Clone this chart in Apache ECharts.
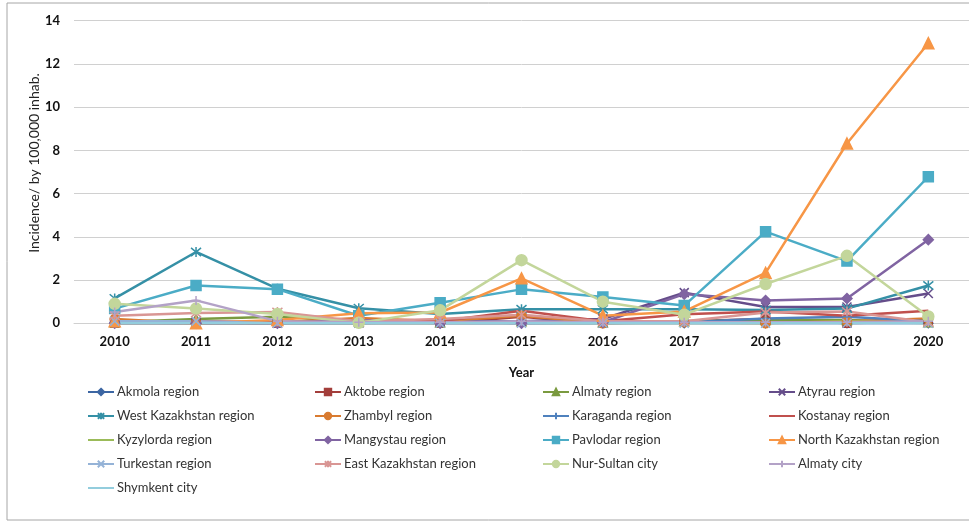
<!DOCTYPE html>
<html lang="en">
<head>
    <meta charset="UTF-8">
    <title>incidence</title>
    <script src="https://cdn.jsdelivr.net/npm/echarts@6/dist/echarts.min.js"></script>
    <style>
        html, body { margin: 0; padding: 0; background: #fff; }
    </style>
</head>
<body>
<div id="main" style="width: 969px;height:524px;"></div>
<script>
    // years on the x axis
    var years = ['2010', '2011', '2012', '2013', '2014', '2015', '2016', '2017', '2018', '2019', '2020'];
    var yTicks = [0, 2, 4, 6, 8, 10, 12, 14];

    // values (per 100,000 inhab.)
    var akmola     = [0.05, 0, 0, 0, 0.1, 0, 0, 0, 0, 0, 0];
    var aktobe     = [0, 0, 0, 0, 0, 0.3, 0, 0.1, 0.2, 0, 0.1];
    var almatyReg  = [0.05, 0.2, 0.3, 0.1, 0.05, 0.1, 0.05, 0.1, 0.15, 0.15, 0.05];
    var atyrau     = [0.05, 0.05, 0, 0.15, 0.1, 0.1, 0.2, 1.42, 0.75, 0.75, 1.38];
    var westKaz    = [1.15, 3.3, 1.6, 0.7, 0.43, 0.65, 0.65, 0.65, 0.62, 0.68, 1.75];
    var zhambyl    = [0.2, 0, 0.05, 0.25, 0.1, 0.35, 0, 0.05, 0, 0.1, 0.22];
    var karaganda  = [0, 0, 0, 0, 0, 0, 0, 0.05, 0.22, 0.3, 0.1];
    var kostanay   = [0.1, 0.1, 0.05, 0.1, 0.1, 0.58, 0.1, 0.42, 0.55, 0.35, 0.58];
    var kyzylorda  = [0, 0, 0, 0, 0, 0, 0, 0, 0, 0.1, 0];
    var mangystau  = [0, 0, 0, 0.15, 0, 0, 0.05, 1.35, 1.05, 1.15, 3.87];
    var pavlodar   = [0.68, 1.75, 1.58, 0.35, 0.95, 1.57, 1.22, 0.82, 4.24, 2.88, 6.78];
    var northKaz   = [0.1, 0, 0.15, 0.46, 0.5, 2.08, 0.35, 0.55, 2.33, 8.32, 12.96];
    var turkestan  = [0.1, 0.1, 0, 0, 0, 0, 0, 0, 0, 0, 0];
    var eastKaz    = [0.35, 0.48, 0.52, 0.1, 0.2, 0.4, 0.1, 0.1, 0.5, 0.55, 0.05];
    var nurSultan  = [0.9, 0.68, 0.43, 0.02, 0.6, 2.92, 1.0, 0.4, 1.82, 3.12, 0.32];
    var almatyCity = [0.52, 1.06, 0.1, 0.05, 0.05, 0.1, 0.05, 0.05, 0.05, 0.05, 0.1];
    var shymkent   = [0, 0, 0, 0, 0, 0, 0, 0, 0, 0, 0];

    var X = 'path://M0,0L10,10M10,0L0,10';
    var STAR = 'path://M0,0L10,10M10,0L0,10M5,-1L5,11';
    var PLUS = 'path://M5,0L5,10M0,5L10,5';

    var myChart = echarts.init(document.getElementById('main'));

    var noMarker = {};
    function mk(name, data, color, symbol, size) {
        if (!symbol) noMarker[name] = true;
        return {
            name: name,
            type: 'line',
            data: data,
            color: color,
            lineStyle: { width: 2.5, color: color },
            itemStyle: { color: color, borderColor: color, borderWidth: 1.5 },
            symbol: symbol || 'none',
            symbolSize: size || 8,
            showSymbol: !!symbol
        };
    }

    var series = [
        mk('Akmola region', akmola, '#3c66a3', 'diamond', 9),
        mk('Aktobe region', aktobe, '#a33e3b', 'rect', 8),
        mk('Almaty region', almatyReg, '#7a9a3f', 'triangle', 9),
        mk('Atyrau region', atyrau, '#654d8a', X, 9),
        mk('West Kazakhstan region', westKaz, '#3590a6', STAR, 10),
        mk('Zhambyl region', zhambyl, '#d97b30', 'circle', 9),
        mk('Karaganda region', karaganda, '#4f81bd', PLUS, 9),
        mk('Kostanay region', kostanay, '#c0504d'),
        mk('Kyzylorda region', kyzylorda, '#9bbb59'),
        mk('Mangystau region', mangystau, '#8064a2', 'diamond', 10),
        mk('Pavlodar region', pavlodar, '#4bacc6', 'rect', 10),
        mk('North Kazakhstan region', northKaz, '#f79646', 'triangle', 11),
        mk('Turkestan region', turkestan, '#95b3d7', X, 9),
        mk('East Kazakhstan region', eastKaz, '#d99694', STAR, 10),
        mk('Nur-Sultan city', nurSultan, '#c3d69b', 'circle', 11),
        mk('Almaty city', almatyCity, '#b3a2c7', PLUS, 9),
        mk('Shymkent city', shymkent, '#93cddd')
    ];

    var cols = [
        ['Akmola region', 'West Kazakhstan region', 'Kyzylorda region', 'Turkestan region', 'Shymkent city'],
        ['Aktobe region', 'Zhambyl region', 'Mangystau region', 'East Kazakhstan region'],
        ['Almaty region', 'Karaganda region', 'Pavlodar region', 'Nur-Sultan city'],
        ['Atyrau region', 'Kostanay region', 'North Kazakhstan region', 'Almaty city']
    ];
    var colX = [87, 314, 542, 768];
    var legends = [];
    for (var i = 0; i < cols.length; i++) {
        var items = cols[i].map(function (n) {
            // plain line icon for the series drawn without markers
            return noMarker[n] ? { name: n, itemStyle: { opacity: 0 } } : n;
        });
        legends.push({
            orient: 'vertical',
            left: colX[i],
            top: 385,
            data: items,
            itemWidth: 26,
            itemHeight: 8,
            itemGap: 10,
            padding: 0,
            selectedMode: false,
            textStyle: { fontFamily: 'Lato', fontSize: 13, color: '#333', lineHeight: 14, padding: [0, 0, 0, -2] }
        });
    }

    var option = {
        animation: false,
        textStyle: { fontFamily: 'Lato' },
        graphic: [{
            type: 'rect',
            shape: { x: 7, y: 3, width: 1000, height: 517 },
            style: { fill: 'none', stroke: '#a6a6a6', lineWidth: 1 },
            silent: true
        }, {
            type: 'text',
            x: 34,
            y: 163,
            rotation: Math.PI / 2,
            style: {
                text: 'Incidence/ by 100,000 inhab.',
                font: '14px Lato',
                fill: '#222',
                align: 'center',
                verticalAlign: 'middle'
            },
            silent: true
        }],
        legend: legends,
        grid: { left: 74, right: 0, top: 20.7, bottom: 200.7 },
        xAxis: {
            type: 'category',
            data: years,
            boundaryGap: true,
            name: 'Year',
            nameLocation: 'middle',
            nameGap: 43,
            nameTextStyle: { fontFamily: 'Lato', fontSize: 13, fontWeight: 'bold', color: '#111' },
            axisLine: { lineStyle: { color: '#d0d0d0', width: 1 } },
            axisTick: { show: false },
            axisLabel: { fontFamily: 'Lato', fontSize: 13, fontWeight: 'bold', color: '#111', margin: 12 }
        },
        yAxis: {
            type: 'value',
            min: yTicks[0],
            max: yTicks[yTicks.length - 1],
            interval: 2,
            axisLine: { show: false },
            axisTick: { show: false },
            axisLabel: { fontFamily: 'Lato', fontSize: 13, fontWeight: 'bold', color: '#111', margin: 14 },
            splitLine: { lineStyle: { color: '#d0d0d0', width: 1 } }
        },
        series: series
    };
    myChart.setOption(option);
</script>
</body>
</html>
